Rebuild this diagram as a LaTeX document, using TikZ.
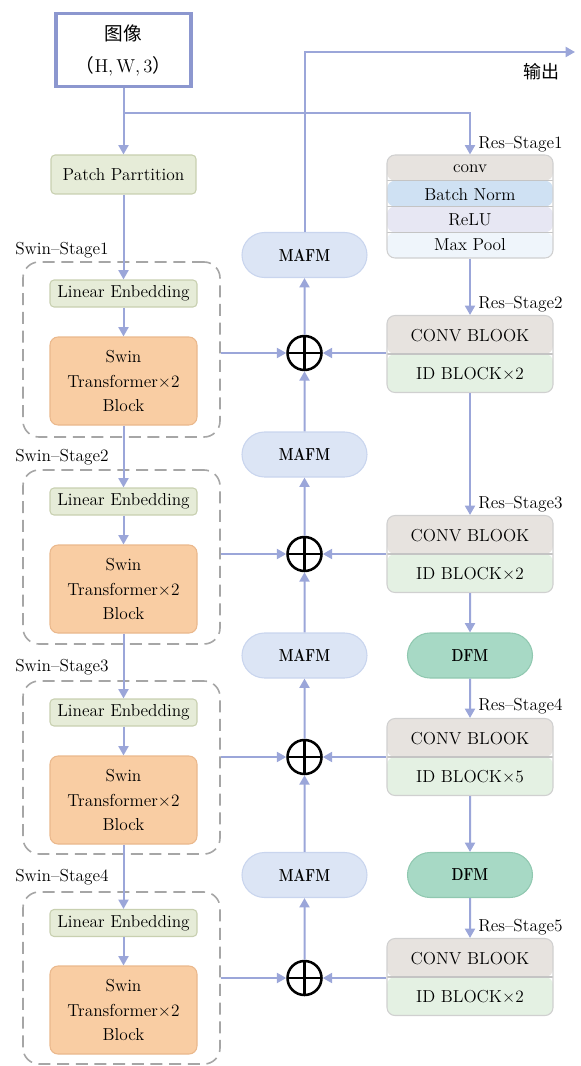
\documentclass[tikz,border=0pt]{standalone}
\usepackage{fontspec}
\usepackage{graphicx}
\newfontfamily\cjk{Noto Sans CJK SC}
\usetikzlibrary{arrows.meta,shapes.misc}

% one drawing unit = one pixel of the layout grid
\newcommand\pxu{*0.75pt}

\definecolor{lineblue}{RGB}{155,166,217}
\definecolor{imgborder}{RGB}{140,151,207}
\definecolor{greenfill}{RGB}{230,236,216}
\definecolor{greenborder}{RGB}{200,208,176}
\definecolor{peach}{RGB}{249,205,163}
\definecolor{peachborder}{RGB}{234,184,140}
\definecolor{dashgray}{RGB}{166,166,166}
\definecolor{mafmfill}{RGB}{220,229,245}
\definecolor{mafmborder}{RGB}{201,213,238}
\definecolor{dfmfill}{RGB}{167,217,197}
\definecolor{dfmborder}{RGB}{144,200,176}
\definecolor{convrow}{RGB}{231,227,223}
\definecolor{bnrow}{RGB}{207,225,243}
\definecolor{relurow}{RGB}{231,231,243}
\definecolor{poolrow}{RGB}{239,245,251}
\definecolor{idrow}{RGB}{228,241,227}
\definecolor{resborder}{RGB}{208,208,208}
\definecolor{sepgray}{RGB}{196,196,196}

\tikzset{
  box/.style={rectangle, inner sep=0pt, align=center},
  imgbox/.style={box, draw=imgborder, line width=2.6pt, minimum width=135\pxu, minimum height=73\pxu,
    font=\fontsize{14}{24}\selectfont},
  greenbox/.style={box, draw=greenborder, fill=greenfill, line width=0.8pt, rounded corners=3pt,
    minimum width=147\pxu, minimum height=27\pxu},
  swinblock/.style={box, draw=peachborder, fill=peach, line width=0.8pt, rounded corners=6pt,
    minimum width=147\pxu, minimum height=88\pxu, font=\fontsize{13}{18.5}\selectfont},
  stagebox/.style={box, draw=dashgray, dash pattern=on 9pt off 5pt, line width=1.2pt,
    rounded corners=12pt, minimum width=197\pxu},
  pill/.style={rounded rectangle, inner sep=0pt, line width=0.8pt,
    minimum width=125\pxu, minimum height=45\pxu},
  mafm/.style={pill, draw=mafmborder, fill=mafmfill},
  dfm/.style={pill, draw=dfmborder, fill=dfmfill},
  sumnode/.style={circle, draw=black, line width=1.9pt, minimum size=34\pxu, inner sep=0pt,
    path picture={\draw[line width=1.9pt]
      (path picture bounding box.north) -- (path picture bounding box.south)
      (path picture bounding box.west) -- (path picture bounding box.east);}},
  resbox/.style={box, draw=resborder, line width=0.8pt, rounded corners=6pt, minimum width=166\pxu},
  tworows/.style={resbox, minimum height=77\pxu,
    path picture={
      \fill[convrow] (path picture bounding box.north west) rectangle (path picture bounding box.east);
      \fill[idrow] (path picture bounding box.west) rectangle (path picture bounding box.south east);
      \draw[sepgray, line width=1pt] (path picture bounding box.west) -- (path picture bounding box.east);}},
  fourrows/.style={resbox, minimum height=103\pxu,
    path picture={
      \fill[convrow] (path picture bounding box.north west) rectangle ([yshift=-19.3pt]path picture bounding box.north east);
      \fill[bnrow] ([yshift=-19.3pt]path picture bounding box.north west) rectangle (path picture bounding box.east);
      \fill[relurow] (path picture bounding box.west) rectangle ([yshift=19.3pt]path picture bounding box.south east);
      \fill[poolrow] ([yshift=19.3pt]path picture bounding box.south west) rectangle (path picture bounding box.south east);
      \draw[sepgray, line width=1pt]
        ([yshift=-19.3pt]path picture bounding box.north west) -- ([yshift=-19.3pt]path picture bounding box.north east)
        (path picture bounding box.west) -- (path picture bounding box.east)
        ([yshift=19.3pt]path picture bounding box.south west) -- ([yshift=19.3pt]path picture bounding box.south east);}},
  rowtext/.style={inner sep=0pt},
  steplabel/.style={inner sep=0pt, anchor=west},
  wire/.style={draw=lineblue, line width=1.5pt},
  flow/.style={wire, -{Triangle[length=7pt,width=7.5pt]}},
}

\begin{document}
\begin{tikzpicture}[x=0.75pt, y=-0.75pt, font=\fontsize{13}{15.5}\selectfont]
\useasboundingbox (0,0) rectangle (581,1066);

% ---- input and patch partition
\node[imgbox] (img) at (123.5,50) {{\cjk 图像}\\{\cjk （}H,\,W,\,3{\cjk ）}};
\node[greenbox, minimum width=145\pxu, minimum height=39\pxu] (patch) at (123.5,174.5) {Patch Parrtition};

% ---- Swin branch
\node[stagebox, minimum height=175\pxu] (s1) at (121.5,349.5) {};
\node[stagebox, minimum height=174\pxu] (s2) at (121.5,557) {};
\node[stagebox, minimum height=173\pxu] (s3) at (121.5,767.5) {};
\node[stagebox, minimum height=172\pxu] (s4) at (121.5,978) {};
\node[steplabel] (s1l) at (15,250) {Swin–Stage1};
\node[steplabel] (s2l) at (15,457) {Swin–Stage2};
\node[steplabel] (s3l) at (15,667) {Swin–Stage3};
\node[steplabel] (s4l) at (15,877) {Swin–Stage4};

\node[greenbox] (le1) at (123.5,293.5) {Linear Enbedding};
\node[greenbox] (le2) at (123.5,501.5) {Linear Enbedding};
\node[greenbox] (le3) at (123.5,712.5) {Linear Enbedding};
\node[greenbox] (le4) at (123.5,923) {Linear Enbedding};

\node[swinblock] (b1) at (123.5,381) {Swin\\Transformer×2\\Block};
\node[swinblock] (b2) at (123.5,589) {Swin\\Transformer×2\\Block};
\node[swinblock] (b3) at (123.5,800) {Swin\\Transformer×2\\Block};
\node[swinblock] (b4) at (123.5,1010) {Swin\\Transformer×2\\Block};

% ---- fusion column
\node[mafm] (m1) at (304.5,255) {\scalebox{0.8}[1]{\bfseries MAFM}};
\node[mafm] (m2) at (304.5,454.5) {\scalebox{0.8}[1]{\bfseries MAFM}};
\node[mafm] (m3) at (304.5,655.5) {\scalebox{0.8}[1]{\bfseries MAFM}};
\node[mafm] (m4) at (304.5,875) {\scalebox{0.8}[1]{\bfseries MAFM}};

\node[sumnode] (c1) at (304.5,353) {};
\node[sumnode] (c2) at (304.5,554) {};
\node[sumnode] (c3) at (304.5,757) {};
\node[sumnode] (c4) at (304.5,978) {};

% ---- ResNet branch
\node[fourrows] (res1) at (470,206.5) {};
\node[rowtext] (r1a) at (470,168.5) {conv};
\node[rowtext] (r1b) at (470,194.5) {Batch Norm};
\node[rowtext] (r1c) at (470,219.5) {ReLU};
\node[rowtext] (r1d) at (470,245) {Max Pool};

\node[tworows] (res2) at (470,354) {};
\node[rowtext] (r2a) at (470,335.5) {CONV BLOOK};
\node[rowtext] (r2b) at (470,373.5) {ID BLOCK×2};
\node[tworows] (res3) at (470,554) {};
\node[rowtext] (r3a) at (470,535.5) {CONV BLOOK};
\node[rowtext] (r3b) at (470,573.5) {ID BLOCK×2};
\node[tworows] (res4) at (470,757) {};
\node[rowtext] (r4a) at (470,738.5) {CONV BLOOK};
\node[rowtext] (r4b) at (470,776.5) {ID BLOCK×5};
\node[tworows] (res5) at (470,977) {};
\node[rowtext] (r5a) at (470,958.5) {CONV BLOOK};
\node[rowtext] (r5b) at (470,996.5) {ID BLOCK×2};

\node[dfm] (d1) at (470,655.5) {\scalebox{0.8}[1]{\bfseries DFM}};
\node[dfm] (d2) at (470,875) {\scalebox{0.8}[1]{\bfseries DFM}};

\node[steplabel] (rl1) at (478,144) {Res–Stage1};
\node[steplabel] (rl2) at (478,304) {Res–Stage2};
\node[steplabel] (rl3) at (478,504) {Res–Stage3};
\node[steplabel] (rl4) at (478,706) {Res–Stage4};
\node[steplabel] (rl5) at (478,927) {Res–Stage5};

\node[inner sep=0pt, font=\fontsize{13.5}{16}\selectfont] (outl) at (541,72) {\cjk 输出};
\coordinate (out) at (575,52);
\coordinate (br) at (123.5,113);

% ---- connectors
\draw[flow] (img) -- (patch);
\draw[flow] (br) -| (res1.north);
\draw[flow] (patch) -- (le1);
\draw[flow] (le1) -- (b1);
\draw[flow] (b1) -- (le2);
\draw[flow] (le2) -- (b2);
\draw[flow] (b2) -- (le3);
\draw[flow] (le3) -- (b3);
\draw[flow] (b3) -- (le4);
\draw[flow] (le4) -- (b4);

\draw[flow] (s1.east |- c1) -- (c1);
\draw[flow] (s2.east |- c2) -- (c2);
\draw[flow] (s3.east |- c3) -- (c3);
\draw[flow] (s4.east |- c4) -- (c4);

\draw[flow] (res2.west |- c1) -- (c1);
\draw[flow] (res3.west |- c2) -- (c2);
\draw[flow] (res4.west |- c3) -- (c3);
\draw[flow] (res5.west |- c4) -- (c4);

\draw[flow] (c1) -- (m1);
\draw[flow] (c2) -- (m2);
\draw[flow] (c3) -- (m3);
\draw[flow] (c4) -- (m4);
\draw[flow] (m2) -- (c1);
\draw[flow] (m3) -- (c2);
\draw[flow] (m4) -- (c3);
\draw[flow] (m1.north) |- (out);

\draw[flow] (res1) -- (res2);
\draw[flow] (res2) -- (res3);
\draw[flow] (res3) -- (d1);
\draw[flow] (d1) -- (res4);
\draw[flow] (res4) -- (d2);
\draw[flow] (d2) -- (res5);
\end{tikzpicture}
\end{document}
